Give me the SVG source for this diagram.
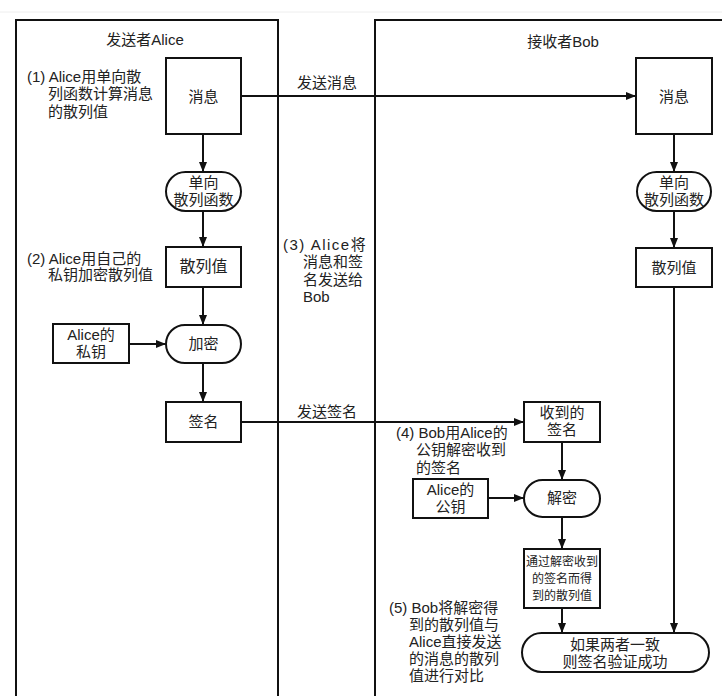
<svg xmlns="http://www.w3.org/2000/svg" width="722" height="696" viewBox="0 0 722 696">
<style>
.box{fill:#fff;stroke:#111;stroke-width:2}
.pan{fill:none;stroke:#111;stroke-width:2}
.ln{fill:none;stroke:#111;stroke-width:2}
text{font-family:"Liberation Sans","Noto Sans CJK SC",sans-serif;fill:#222}
.t{font-size:15px;text-anchor:middle}
.s{font-size:12px;text-anchor:middle}
.a{font-size:15px}
</style>
<defs>
<marker id="ah" markerUnits="userSpaceOnUse" markerWidth="10" markerHeight="8" refX="10" refY="4" orient="auto">
<path d="M0,0 L10,4 L0,8 z" fill="#111"/>
</marker>
</defs>
<rect width="722" height="696" fill="#fff"/>
<line x1="0" y1="12" x2="722" y2="12" stroke="#eee" stroke-width="1"/>
<g id="panel-alice">
<path class="pan" d="M16,696 V20 H278 V696"/>
<text class="t" x="145" y="45">发送者Alice</text>
</g>
<g id="panel-bob">
<path class="pan" d="M375,696 V20 H722"/>
<text class="t" x="563" y="47">接收者Bob</text>
</g>
<g id="connectors">
<line class="ln" x1="203" y1="134" x2="203" y2="172" marker-end="url(#ah)"/>
<line class="ln" x1="203" y1="211" x2="203" y2="247" marker-end="url(#ah)"/>
<line class="ln" x1="203" y1="287" x2="203" y2="325" marker-end="url(#ah)"/>
<line class="ln" x1="129" y1="344" x2="166" y2="344" marker-end="url(#ah)"/>
<line class="ln" x1="203" y1="363" x2="203" y2="402" marker-end="url(#ah)"/>
<line class="ln" x1="241" y1="422" x2="524" y2="422" marker-end="url(#ah)"/>
<line class="ln" x1="241" y1="96" x2="636" y2="96" marker-end="url(#ah)"/>
<line class="ln" x1="674" y1="134" x2="674" y2="172" marker-end="url(#ah)"/>
<line class="ln" x1="674" y1="211" x2="674" y2="248" marker-end="url(#ah)"/>
<line class="ln" x1="674" y1="287" x2="674" y2="633" marker-end="url(#ah)"/>
<line class="ln" x1="562" y1="442" x2="562" y2="480" marker-end="url(#ah)"/>
<line class="ln" x1="488" y1="498" x2="524" y2="498" marker-end="url(#ah)"/>
<line class="ln" x1="562" y1="517" x2="562" y2="549" marker-end="url(#ah)"/>
<line class="ln" x1="562" y1="608" x2="562" y2="633" marker-end="url(#ah)"/>
<text class="a" x="297" y="88">发送消息</text>
<text class="a" x="297" y="417">发送签名</text>
</g>
<g id="msg-a"><rect class="box" x="166" y="58" width="75" height="76"/><text class="t" x="203.5" y="102">消息</text></g>
<g id="hash-fn-a"><rect class="box" x="166" y="172" width="75" height="39" rx="19.5"/><text class="t" x="203.5" y="188">单向</text><text class="t" x="203.5" y="205">散列函数</text></g>
<g id="hash-a"><rect class="box" x="166" y="247" width="75" height="40"/><text class="t" x="203.5" y="272" style="font-size:16px">散列值</text></g>
<g id="privkey"><rect class="box" x="53" y="324" width="76" height="39"/><text class="t" x="91" y="340">Alice的</text><text class="t" x="91" y="357">私钥</text></g>
<g id="encrypt"><rect class="box" x="166" y="325" width="75" height="38" rx="19"/><text class="t" x="203.5" y="349">加密</text></g>
<g id="sig-a"><rect class="box" x="166" y="402" width="75" height="40"/><text class="t" x="203.5" y="427">签名</text></g>
<g id="msg-b"><rect class="box" x="636" y="58" width="76" height="76"/><text class="t" x="674" y="102">消息</text></g>
<g id="hash-fn-b"><rect class="box" x="637" y="172" width="74" height="39" rx="19.5"/><text class="t" x="674" y="188">单向</text><text class="t" x="674" y="205">散列函数</text></g>
<g id="hash-b"><rect class="box" x="636" y="248" width="76" height="39"/><text class="t" x="674" y="273">散列值</text></g>
<g id="sig-b"><rect class="box" x="524" y="402" width="76" height="40"/><text class="t" x="562" y="418">收到的</text><text class="t" x="562" y="435">签名</text></g>
<g id="pubkey"><rect class="box" x="413" y="479" width="75" height="39"/><text class="t" x="450.5" y="495">Alice的</text><text class="t" x="450.5" y="512">公钥</text></g>
<g id="decrypt"><rect class="box" x="524" y="480" width="76" height="37" rx="18.5"/><text class="t" x="562" y="503">解密</text></g>
<g id="dec-hash"><rect class="box" x="524" y="549" width="76" height="59"/><text class="s" x="562" y="566">通过解密收到</text><text class="s" x="562" y="583">的签名而得</text><text class="s" x="562" y="600">到的散列值</text></g>
<g id="result"><rect class="box" x="522" y="633" width="187" height="39" rx="19.5"/><text class="t" x="615" y="650">如果两者一致</text><text class="t" x="615" y="667">则签名验证成功</text></g>
<g id="notes">
<text class="a" x="27" y="82">(1) Alice用单向散</text>
<text class="a" x="48" y="99">列函数计算消息</text>
<text class="a" x="48" y="117">的散列值</text>
<text class="a" x="27" y="264">(2) Alice用自己的</text>
<text class="a" x="48" y="280">私钥加密散列值</text>
<text class="a" x="283" y="250" style="letter-spacing:1.5px">(3) Alice将</text>
<text class="a" x="303" y="267">消息和签</text>
<text class="a" x="303" y="285">名发送给</text>
<text class="a" x="303" y="302">Bob</text>
<text class="a" x="396" y="438">(4) Bob用Alice的</text>
<text class="a" x="416" y="455">公钥解密收到</text>
<text class="a" x="416" y="473">的签名</text>
<text class="a" x="389" y="613">(5) Bob将解密得</text>
<text class="a" x="409" y="630">到的散列值与</text>
<text class="a" x="409" y="647">Alice直接发送</text>
<text class="a" x="409" y="664">的消息的散列</text>
<text class="a" x="409" y="681">值进行对比</text>
</g>
</svg>
